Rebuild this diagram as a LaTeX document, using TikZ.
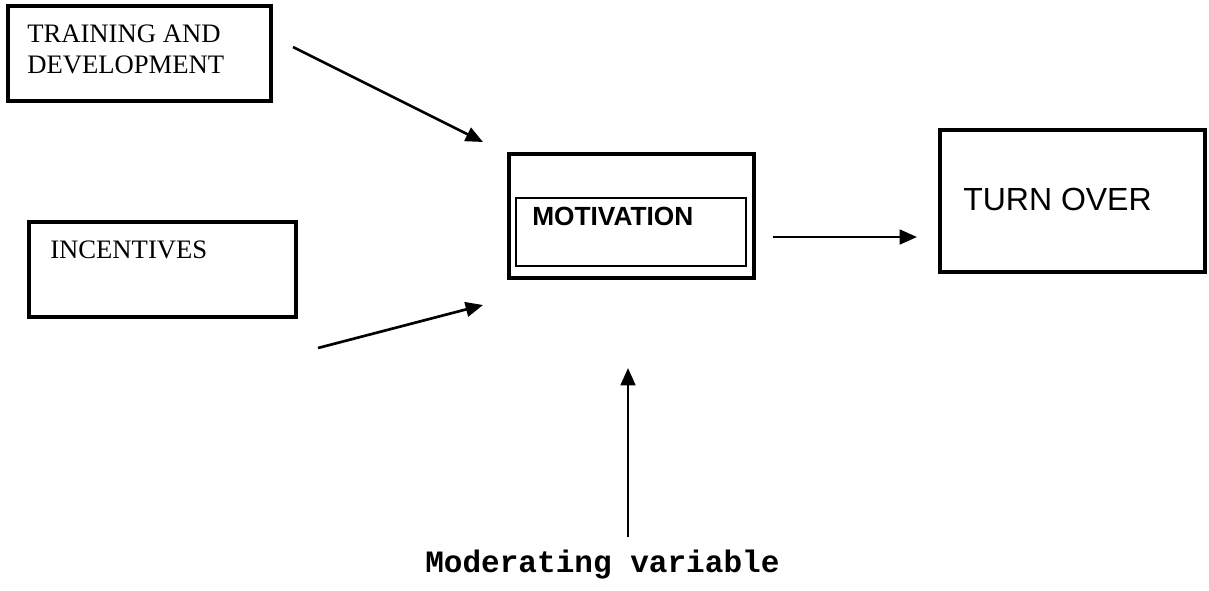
\documentclass[tikz,border=0pt]{standalone}
\usepackage{fontspec}
\setmainfont{Liberation Serif}
\setsansfont{Liberation Sans}
\setmonofont{Liberation Mono}
\usetikzlibrary{arrows.meta,positioning,fit}

\begin{document}
\begin{tikzpicture}[x=0.75pt,y=-0.75pt,
    outerbox/.style={draw,line width=3.4pt,inner sep=0pt},
    innerbox/.style={draw,line width=1.3pt,inner sep=0pt},
    link/.style={line width=2pt,-{Triangle[length=13pt,width=11pt]}},
    seriflabel/.style={font=\fontsize{20}{23.25}\selectfont,anchor=base west,inner sep=0pt,align=left},
    sanslabel/.style={anchor=base west,inner sep=0pt}]
  \useasboundingbox (0,0) rectangle (1209,590);
  % cadres
  \node[outerbox,fit={(8,6) (271,101)}]     (training)   {};
  \node[outerbox,fit={(29,222) (296,317)}]  (incentives) {};
  \node[outerbox,fit={(509,154) (754,278)}] (motivation) {};
  \node[innerbox,fit={(516,198) (746,266)}] (motivationInner) {};
  \node[outerbox,fit={(940,130) (1205,272)}] (turnover)  {};
  % textes
  \node[seriflabel] (trainingText)   at (27,73)  {TRAINING AND\\DEVELOPMENT};
  \node[seriflabel] (incentivesText) at (50,258) {INCENTIVES};
  \node[sanslabel,font=\fontsize{19.7}{23}\sffamily\bfseries] (motivationText) at (532,225) {MOTIVATION};
  \node[sanslabel,font=\fontsize{24}{29}\sffamily] (turnoverText) at (963,210) {TURN OVER};
  \node[sanslabel,font=\fontsize{23.3}{27}\ttfamily\bfseries] (moderating) at (425,572) {Moderating variable};
  % fleches
  \coordinate (trainingOut)   at (293,47);
  \coordinate (trainingIn)    at (483,142);
  \coordinate (incentivesOut) at (318,348);
  \coordinate (incentivesIn)  at (483,305);
  \coordinate (motivationOut) at (773,237);
  \coordinate (turnoverIn)    at (917,237);
  \coordinate (moderatingOut) at (628,537);
  \coordinate (moderatingIn)  at (628,368);
  \draw[link] (trainingOut) -- (trainingIn);
  \draw[link] (incentivesOut) -- (incentivesIn);
  \draw[link] (motivationOut) -- (turnoverIn);
  \draw[link] (moderatingOut) -- (moderatingIn);
\end{tikzpicture}
\end{document}
